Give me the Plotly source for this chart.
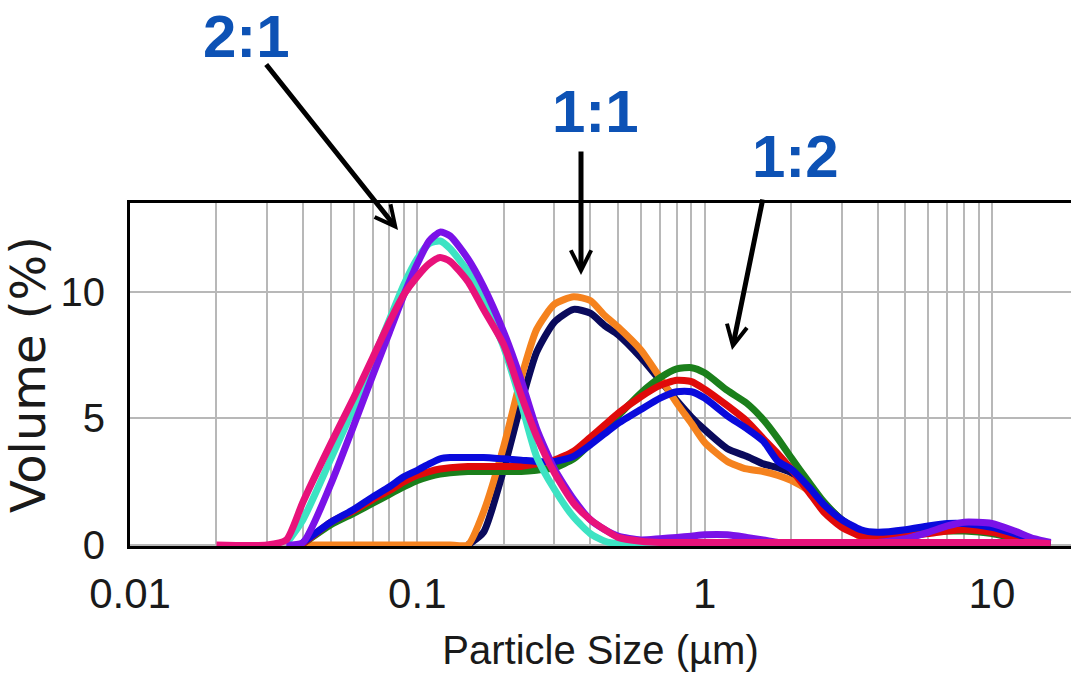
import plotly.graph_objects as go

# Particle size classes (µm)
sizes = [0.02, 0.03, 0.035, 0.04, 0.05, 0.06, 0.07, 0.08, 0.09, 0.1,
         0.11, 0.12, 0.13, 0.15, 0.17, 0.2, 0.23, 0.26, 0.3, 0.35,
         0.4, 0.45, 0.5, 0.6, 0.7, 0.8, 0.9, 1.0, 1.2, 1.4,
         1.6, 1.8, 2.0, 2.3, 2.6, 3.0, 3.5, 4.0, 5, 6,
         7, 8, 10, 12, 14, 16]

N = None
# ratio 1:1
navy = [N, N, N, N, N, N, N, N, N, N,
        N, N, N, 0.0, 0.5, 3.0, 5.6, 7.6, 8.8, 9.3,
        9.15, 8.65, 8.3, 7.4, 6.5, 5.7, 5.05, 4.55, 3.8, 3.5,
        3.2, 3.05, 2.85, 2.3, 1.65, 1.0, 0.5, 0.15, 0.0, N,
        N, N, N, N, N, N]
orange = [N, N, N, 0.0, 0.0, 0.0, 0.0, 0.0, 0.0, 0.0,
          0.0, 0.0, 0.0, 0.0, 1.3, 3.9, 6.6, 8.5, 9.5, 9.8,
          9.65, 9.05, 8.6, 7.7, 6.6, 5.6, 4.8, 4.05, 3.3, 3.0,
          2.9, 2.75, 2.55, 2.15, 1.6, 0.9, 0.3, 0.05, 0.0, N,
          N, N, N, N, N, N]
# ratio 1:2
green = [N, N, N, 0.05, 0.8, 1.25, 1.65, 2.0, 2.3, 2.55,
         2.7, 2.8, 2.85, 2.9, 2.9, 2.9, 2.9, 2.95, 3.05, 3.4,
         4.0, 4.6, 5.1, 6.0, 6.6, 6.95, 7.0, 6.8, 6.1, 5.6,
         4.95, 4.2, 3.45, 2.5, 1.7, 1.0, 0.55, 0.4, 0.4, 0.5,
         0.55, 0.55, 0.45, 0.25, 0.1, 0.0]
red = [N, N, N, 0.05, 0.9, 1.35, 1.8, 2.15, 2.5, 2.75,
       2.9, 3.0, 3.05, 3.1, 3.1, 3.1, 3.1, 3.2, 3.35, 3.7,
       4.25, 4.75, 5.2, 5.85, 6.3, 6.5, 6.45, 6.15, 5.5, 4.9,
       4.2, 3.6, 3.0, 2.1, 1.3, 0.7, 0.35, 0.3, 0.35, 0.45,
       0.55, 0.6, 0.5, 0.3, 0.1, 0.0]
blue = [N, N, N, 0.1, 0.9, 1.4, 1.9, 2.3, 2.7, 2.95,
        3.2, 3.4, 3.45, 3.45, 3.45, 3.4, 3.35, 3.3, 3.3, 3.5,
        3.95, 4.4, 4.8, 5.35, 5.8, 6.05, 6.05, 5.8, 5.1, 4.6,
        4.1, 3.3, 3.0, 2.3, 1.6, 1.0, 0.6, 0.5, 0.6, 0.75,
        0.85, 0.85, 0.7, 0.45, 0.2, 0.05]
# ratio 2:1
turquoise = [N, N, 0.05, 1.0, 3.4, 5.4, 7.3, 8.9, 10.3, 11.3,
             11.9, 12.0, 11.7, 10.8, 9.6, 7.8, 5.6, 3.5, 2.2, 1.1,
             0.45, 0.15, 0.05, 0.0, 0.0, N, N, N, N, N,
             N, N, N, N, N, N, N, N, N, N,
             N, N, N, N, N, N]
purple = [N, N, 0.0, 0.1, 2.4, 4.7, 6.7, 8.4, 9.9, 11.1,
          12.0, 12.35, 12.2, 11.3, 10.2, 8.4, 6.5, 4.6, 3.0, 1.8,
          1.0, 0.6, 0.35, 0.2, 0.25, 0.3, 0.35, 0.4, 0.4, 0.3,
          0.2, 0.1, 0.05, 0.05, 0.05, 0.05, 0.05, 0.1, 0.25, 0.5,
          0.75, 0.9, 0.85, 0.55, 0.25, 0.1]
pink = [0.0, 0.0, 0.2, 1.7, 4.0, 5.8, 7.4, 8.8, 9.9, 10.6,
        11.1, 11.35, 11.2, 10.4, 9.3, 7.9, 5.9, 4.3, 2.85, 1.65,
        1.0, 0.6, 0.3, 0.15, 0.1, 0.1, 0.1, 0.1, 0.1, 0.1,
        0.1, 0.1, 0.1, 0.1, 0.1, 0.1, 0.1, 0.1, 0.1, 0.1,
        0.1, 0.1, 0.1, 0.1, 0.1, 0.05]

series = [
    ("1:1 a", navy, "#0A0A5C"),
    ("1:1 b", orange, "#F5821E"),
    ("1:2 a", green, "#1B7F1B"),
    ("1:2 b", red, "#E00A0A"),
    ("1:2 c", blue, "#0A0ADC"),
    ("2:1 a", turquoise, "#3DE3C3"),
    ("2:1 b", purple, "#7A12E8"),
    ("2:1 c", pink, "#E8127A"),
]

major_ticks = [0.01, 0.1, 1, 10]
major_text = ["0.01", "0.1", "1", "10"]
minor_ticks = [0.02, 0.03, 0.04, 0.05, 0.06, 0.07, 0.08, 0.09,
               0.2, 0.3, 0.4, 0.5, 0.6, 0.7, 0.8, 0.9,
               2, 3, 4, 5, 6, 7, 8, 9]

fig = go.Figure()
for name, vals, col in series:
    fig.add_trace(go.Scatter(x=sizes, y=vals, mode="lines", name=name,
                             line=dict(color=col, width=7, shape="spline", smoothing=0.6),
                             connectgaps=False))

tickfam = "Liberation Sans, Arial, sans-serif"
grid = "#b8b8b8"

fig.update_layout(
    width=1071, height=688,
    margin=dict(l=130, r=0, t=203, b=142),
    paper_bgcolor="white", plot_bgcolor="white",
    showlegend=False,
    xaxis=dict(type="log", range=[-2, 1.2753],
               tickvals=major_ticks, ticktext=major_text,
               showgrid=True, gridcolor=grid, gridwidth=2,
               minor=dict(tickvals=minor_ticks, showgrid=True, gridcolor=grid, gridwidth=2, ticks=""),
               showline=True, linecolor="black", linewidth=3, mirror=True,
               ticks="", ticklabelstandoff=9,
               tickfont=dict(family=tickfam, size=42, color="#1a1a1a"),
               title=dict(text="Particle Size (µm)", standoff=20,
                          font=dict(family=tickfam, size=40, color="#1a1a1a")),
               zeroline=False),
    yaxis=dict(range=[-0.04, 13.5], tickvals=[0, 5, 10],
               showgrid=True, gridcolor=grid, gridwidth=2,
               showline=True, linecolor="black", linewidth=3, mirror=False,
               ticks="", ticklabelstandoff=14, zeroline=False,
               tickfont=dict(family=tickfam, size=40, color="#1a1a1a"),
               title=dict(text="Volume (%)", standoff=8,
                          font=dict(family="DejaVu Sans, Verdana, sans-serif", size=48, color="#1a1a1a"))),
)

PW, PH, L, T = 941.0, 343.0, 130.0, 203.0
def px(xp):
    return (xp - L) / PW
def py(yp):
    return (T + PH - yp) / PH

label_font = dict(family="Liberation Sans, Arial, sans-serif", size=60, color="#0D52B5")
for txt, cx, cy in [("2:1", 246, 36), ("1:1", 595, 111), ("1:2", 795, 157)]:
    fig.add_annotation(x=px(cx), y=py(cy), xref="paper", yref="paper",
                       text="<b>" + txt + "</b>", showarrow=False,
                       xanchor="center", yanchor="middle", font=label_font)

for tip, tail in [((398, 230), (265, 63)), ((581, 275), (581, 150)), ((732, 350), (763, 198))]:
    fig.add_annotation(x=px(tip[0]), y=py(tip[1]), xref="paper", yref="paper",
                       text="", showarrow=True, arrowhead=5, arrowsize=0.8,
                       arrowwidth=5, arrowcolor="black",
                       ax=tail[0] - tip[0], ay=tail[1] - tip[1])

fig.write_html("out.html")
